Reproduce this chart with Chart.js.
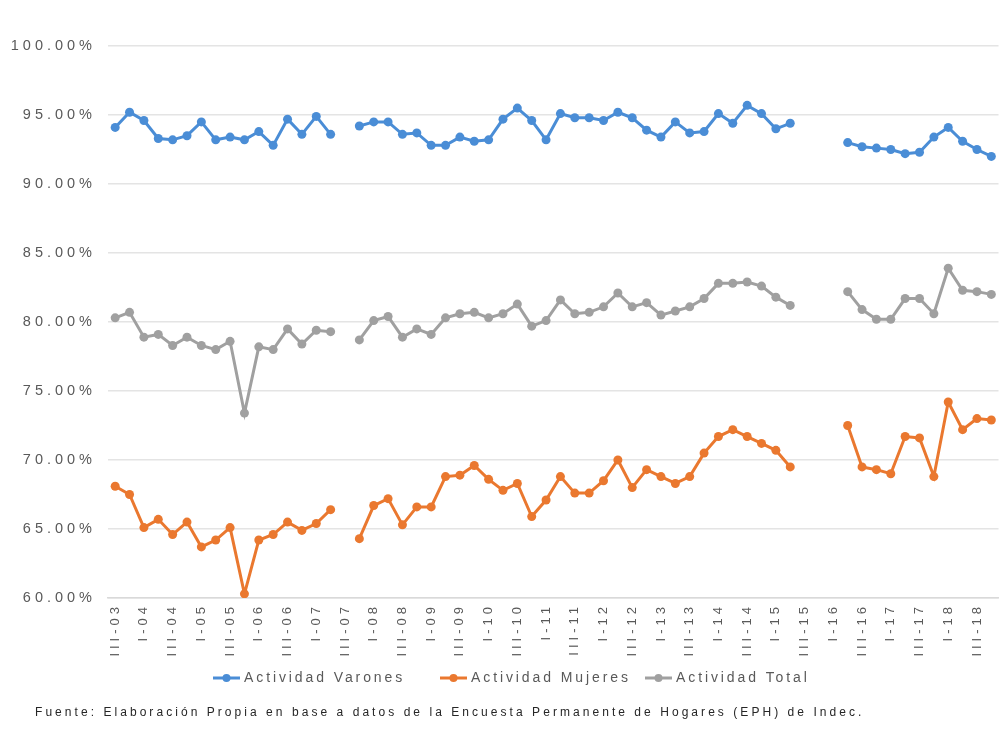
<!DOCTYPE html>
<html>
<head>
<meta charset="utf-8">
<script src="https://cdn.jsdelivr.net/npm/chart.js@4/dist/chart.umd.min.js"></script>
<style>
  body { margin: 0; background: #fff; }
  #wrap { position: relative; width: 1003px; height: 735px; }
  #fuente {
    position: absolute; left: 35px; top: 705px;
    font: 12px "Liberation Sans", Arial, sans-serif;
    letter-spacing: 3.05px; color: #262626; white-space: nowrap;
  }
</style>
</head>
<body>
<div id="wrap">
  <canvas id="myChart" width="1003" height="735"></canvas>
  <div id="fuente">Fuente: Elaboración Propia en base a datos de la Encuesta Permanente de Hogares (EPH) de Indec.</div>
</div>
<script>
const trimestres = [
  'III-03', 'IV-03',
  'I-04', 'II-04', 'III-04', 'IV-04',
  'I-05', 'II-05', 'III-05', 'IV-05',
  'I-06', 'II-06', 'III-06', 'IV-06',
  'I-07', 'II-07', 'III-07', 'IV-07',
  'I-08', 'II-08', 'III-08', 'IV-08',
  'I-09', 'II-09', 'III-09', 'IV-09',
  'I-10', 'II-10', 'III-10', 'IV-10',
  'I-11', 'II-11', 'III-11', 'IV-11',
  'I-12', 'II-12', 'III-12', 'IV-12',
  'I-13', 'II-13', 'III-13', 'IV-13',
  'I-14', 'II-14', 'III-14', 'IV-14',
  'I-15', 'II-15', 'III-15', 'IV-15',
  'I-16', 'II-16', 'III-16', 'IV-16',
  'I-17', 'II-17', 'III-17', 'IV-17',
  'I-18', 'II-18', 'III-18', 'IV-18'
];

const actividadVarones = [
  94.1, 95.2, 94.6, 93.3, 93.2, 93.5, 94.5, 93.2, 93.4, 93.2, 93.8, 92.8, 94.7, 93.6, 94.9, 93.6,
  null,
  94.2, 94.5, 94.5, 93.6, 93.7, 92.8, 92.8, 93.4, 93.1, 93.2, 94.7, 95.5, 94.6, 93.2, 95.1,
  94.8, 94.8, 94.6, 95.2, 94.8, 93.9, 93.4, 94.5, 93.7, 93.8, 95.1, 94.4, 95.7, 95.1, 94.0, 94.4,
  null, null, null,
  93.0, 92.7, 92.6, 92.5, 92.2, 92.3, 93.4, 94.1, 93.1, 92.5, 92.0
];

const actividadMujeres = [
  68.1, 67.5, 65.1, 65.7, 64.6, 65.5, 63.7, 64.2, 65.1, 60.3, 64.2, 64.6, 65.5, 64.9, 65.4, 66.4,
  null,
  64.3, 66.7, 67.2, 65.3, 66.6, 66.6, 68.8, 68.9, 69.6, 68.6, 67.8, 68.3, 65.9, 67.1, 68.8,
  67.6, 67.6, 68.5, 70.0, 68.0, 69.3, 68.8, 68.3, 68.8, 70.5, 71.7, 72.2, 71.7, 71.2, 70.7, 69.5,
  null, null, null,
  72.5, 69.5, 69.3, 69.0, 71.7, 71.6, 68.8, 74.2, 72.2, 73.0, 72.9
];

const actividadTotal = [
  80.3, 80.7, 78.9, 79.1, 78.3, 78.9, 78.3, 78.0, 78.6, 73.4, 78.2, 78.0, 79.5, 78.4, 79.4, 79.3,
  null,
  78.7, 80.1, 80.4, 78.9, 79.5, 79.1, 80.3, 80.6, 80.7, 80.3, 80.6, 81.3, 79.7, 80.1, 81.6,
  80.6, 80.7, 81.1, 82.1, 81.1, 81.4, 80.5, 80.8, 81.1, 81.7, 82.8, 82.8, 82.9, 82.6, 81.8, 81.2,
  null, null, null,
  82.2, 80.9, 80.2, 80.2, 81.7, 81.7, 80.6, 83.9, 82.3, 82.2, 82.0
];

const nombresSeries = ['Actividad Varones', 'Actividad Mujeres', 'Actividad Total'];
const coloresSeries = ['#4a8dd6', '#ea782f', '#a0a0a0'];

const fontFamily = '"Liberation Sans", Arial, sans-serif';

// letter spacing for the axis texts (the source picture is very wide-lettered)
const spacingPlugin = {
  id: 'spacing',
  beforeDraw: (chart) => {
    chart.ctx.letterSpacing = '4px';
  }
};

// legend: line with a dot, like excel
const legendPlugin = {
  id: 'lineLegend',
  afterDraw: (chart) => {
    const ctx = chart.ctx;
    const starts = [213, 440, 645];
    const y = 678;
    ctx.save();
    ctx.font = '14px ' + fontFamily;
    ctx.letterSpacing = '2.9px';
    ctx.textBaseline = 'middle';
    chart.data.datasets.forEach((ds, i) => {
      const x = starts[i];
      ctx.strokeStyle = ds.borderColor;
      ctx.lineWidth = 3;
      ctx.beginPath();
      ctx.moveTo(x, y);
      ctx.lineTo(x + 27, y);
      ctx.stroke();
      ctx.fillStyle = ds.borderColor;
      ctx.beginPath();
      ctx.arc(x + 13.5, y, 4, 0, Math.PI * 2);
      ctx.fill();
      ctx.fillStyle = '#595959';
      ctx.fillText(ds.label, x + 31, y);
    });
    ctx.restore();
  }
};

const makeDataset = (label, data, color) => {
  return {
    label: label,
    data: data,
    borderColor: color,
    backgroundColor: color,
    borderWidth: 3,
    pointRadius: 4.5,
    pointBorderWidth: 0,
    pointBackgroundColor: color,
    spanGaps: false,
    tension: 0
  }
}

var ctx = document.getElementById('myChart').getContext('2d');
var chart = new Chart(ctx, {
  type: 'line',
  data: {
    labels: trimestres,
    datasets: [
      makeDataset(nombresSeries[0], actividadVarones, coloresSeries[0]),
      makeDataset(nombresSeries[1], actividadMujeres, coloresSeries[1]),
      makeDataset(nombresSeries[2], actividadTotal, coloresSeries[2])
    ]
  },
  options: {
    responsive: false,
    devicePixelRatio: 1,
    animation: false,
    layout: { padding: { top: 46, right: 0, bottom: 67, left: 0 } },
    plugins: {
      legend: { display: false },
      tooltip: { enabled: false }
    },
    scales: {
      x: {
        offset: true,
        afterFit: (scale) => {
          scale.height = 70;
          scale.paddingLeft = 0;
          scale.paddingRight = 0;
        },
        grid: { display: false, drawTicks: false },
        border: { display: true, color: '#d9d9d9', width: 1.5 },
        ticks: {
          autoSkip: false,
          minRotation: 90,
          maxRotation: 90,
          padding: 5,
          color: '#595959',
          font: { family: fontFamily, size: 13 },
          callback: function (value, index) {
            return index % 2 === 0 ? this.getLabelForValue(value) : '';
          }
        }
      },
      y: {
        min: 60,
        max: 100,
        afterFit: (scale) => { scale.width = 108; },
        grid: { color: '#e4e4e4', lineWidth: 1.5, drawTicks: false },
        border: { display: false },
        ticks: {
          stepSize: 5,
          padding: 12,
          color: '#595959',
          font: { family: fontFamily, size: 14.5 },
          callback: (v) => v.toFixed(2) + '%'
        }
      }
    }
  },
  plugins: [spacingPlugin, legendPlugin]
});
</script>
</body>
</html>
